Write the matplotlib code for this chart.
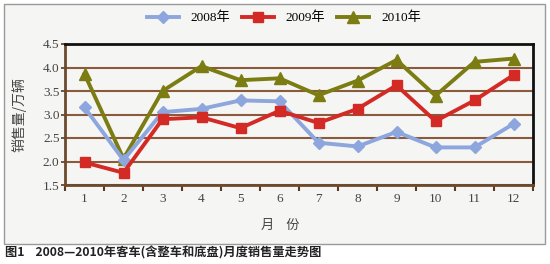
import matplotlib
matplotlib.use("Agg")
import matplotlib.pyplot as plt
from matplotlib.patches import Rectangle

plt.rcParams['font.family'] = ['Liberation Serif', 'Noto Sans CJK SC', 'DejaVu Sans']

months = [1, 2, 3, 4, 5, 6, 7, 8, 9, 10, 11, 12]
sales_2008 = [3.15, 2.03, 3.05, 3.12, 3.30, 3.28, 2.40, 2.32, 2.63, 2.30, 2.30, 2.80]
sales_2009 = [1.98, 1.76, 2.90, 2.94, 2.71, 3.08, 2.82, 3.12, 3.62, 2.86, 3.30, 3.84]
sales_2010 = [3.86, 2.06, 3.50, 4.03, 3.73, 3.77, 3.41, 3.72, 4.16, 3.40, 4.12, 4.19]
yticks = [1.5, 2.0, 2.5, 3.0, 3.5, 4.0, 4.5]

fig = plt.figure(figsize=(5.5, 2.64), dpi=100)
fig.patch.set_facecolor('#ffffff')

# outer frame
fig.patches.append(Rectangle((4 / 550, 20 / 264), 541 / 550, 240 / 264,
                             transform=fig.transFigure, facecolor='#f5f5f3',
                             edgecolor='#9a9a9a', lw=1.0, zorder=-5))

ax = fig.add_axes([65 / 550, 1 - 185 / 264, 468 / 550, 141 / 264])
ax.set_facecolor('#f5f5f3')

x = range(len(months))
ax.plot(x, sales_2008, color='#8da6dd', lw=2.8, marker='D', ms=6, label='2008年', zorder=3)
ax.plot(x, sales_2009, color='#d42a26', lw=2.8, marker='s', ms=7, label='2009年', zorder=4)
ax.plot(x, sales_2010, color='#7b7c12', lw=2.8, marker='^', ms=8, label='2010年', zorder=2)

ax.set_xlim(-0.5, len(months) - 0.5)
ax.set_ylim(1.5, 4.5)
ax.set_yticks(yticks)
ax.set_yticklabels([f'{v:.1f}' for v in yticks], fontsize=9.5, color='#444444')
ax.set_xticks(list(x))
ax.set_xticklabels([str(m) for m in months], fontsize=9.5, color='#444444')
ax.set_xticks([i - 0.5 for i in range(len(months) + 1)], minor=True)
ax.tick_params(axis='x', which='major', length=0, pad=6)
ax.tick_params(axis='x', which='minor', length=4, width=1.5, color='#5a3a22', direction='out')
ax.tick_params(axis='y', length=3, width=1.2, color='#5a3a22', pad=1)

ax.grid(axis='y', color='#8b5a3c', lw=1.5, zorder=1)
ax.set_axisbelow(True)
for side in ['left', 'bottom']:
    ax.spines[side].set_color('#6b4a2e')
    ax.spines[side].set_linewidth(2)
for side in ['top', 'right']:
    ax.spines[side].set_color('#111111')
    ax.spines[side].set_linewidth(2)

ax.set_ylabel('销售量/万辆', fontsize=10, family=['Noto Sans CJK SC'], color='#444444', labelpad=12)
fig.text(280 / 550, 1 - 225 / 264, '月    份', fontsize=9.5, family=['Noto Sans CJK SC'],
         color='#444444', ha='center', va='center')

fig.legend(loc='center', bbox_to_anchor=(284 / 550, 1 - 18 / 264), ncol=3, frameon=False,
           fontsize=9.5, handlelength=2.4, columnspacing=0.9, handletextpad=0.9)

fig.text(5 / 550, 1 - 253 / 264, '图1    2008—2010年客车(含整车和底盘)月度销售量走势图',
         fontsize=8.8, fontweight='bold', family=['Noto Sans CJK SC', 'DejaVu Sans'],
         color='#222222', ha='left', va='center')

fig.savefig('out.png', dpi=100)
